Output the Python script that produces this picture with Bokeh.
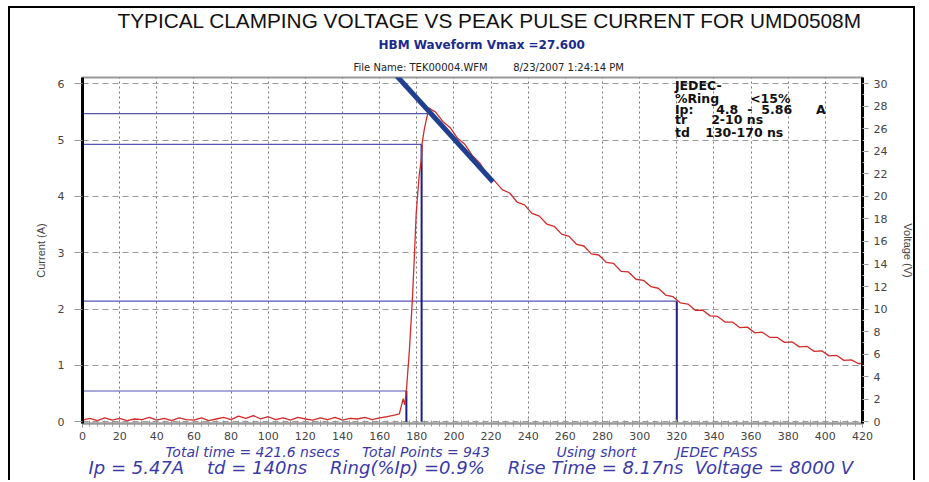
from bokeh.plotting import figure
from bokeh.models import Range1d, LinearAxis, FixedTicker, Label, ColumnDataSource, Title
from bokeh.embed import file_html
from bokeh.resources import INLINE

# ---------------- data ----------------
base_t = [0, 4, 8, 12, 16, 20, 24, 28, 32, 36, 40, 44, 48, 52, 56, 60, 64, 68, 72, 76, 80,
          84, 88, 92, 96, 100, 104, 108, 112, 116, 120, 124, 128, 132, 136, 140, 144, 148,
          152, 156, 160, 164, 168]
base_i = [0.03, 0.06, 0.02, 0.07, 0.03, 0.06, 0.02, 0.05, 0.04, 0.08, 0.03, 0.06, 0.02, 0.07,
          0.04, 0.03, 0.07, 0.02, 0.05, 0.08, 0.04, 0.10, 0.06, 0.11, 0.05, 0.09, 0.04, 0.07,
          0.03, 0.08, 0.05, 0.03, 0.07, 0.04, 0.08, 0.03, 0.06, 0.05, 0.08, 0.04, 0.07, 0.09, 0.12]
rise_t = [170.6, 172.7, 173.5, 174.4, 176.0, 177.6, 178.6, 179.7, 181.3, 182.4, 182.9, 184.0,
          185.1, 186.7, 188.3]
rise_i = [0.14, 0.41, 0.30, 0.55, 1.26, 2.15, 2.86, 3.70, 4.38, 4.64, 4.95, 5.18, 5.36, 5.57, 5.53]
decay_t = [190, 194, 198, 202, 206, 210, 214, 218, 222, 226, 230, 234, 238, 242, 246, 250, 254,
           258, 262, 266, 270, 274, 278, 282, 286, 290, 294, 298, 302, 306, 310, 314, 318, 322,
           326, 330, 334, 338, 342, 346, 350, 354, 358, 362, 366, 370, 374, 378, 382, 386, 390,
           394, 398, 402, 406, 410, 414, 418, 420]
decay_i = [5.50, 5.33, 5.22, 5.03, 4.92, 4.72, 4.59, 4.38, 4.27, 4.12, 4.06, 3.90, 3.85, 3.70,
           3.65, 3.51, 3.47, 3.33, 3.29, 3.15, 3.12, 2.98, 2.96, 2.83, 2.81, 2.67, 2.66, 2.53,
           2.51, 2.40, 2.37, 2.25, 2.22, 2.11, 2.09, 1.98, 1.98, 1.88, 1.87, 1.77, 1.77, 1.67,
           1.68, 1.58, 1.59, 1.50, 1.50, 1.41, 1.42, 1.33, 1.34, 1.25, 1.26, 1.17, 1.18, 1.09,
           1.10, 1.03, 1.04]

# decay fit line (thick blue)
fit_t = [165, 221]
fit_i = [6.29, 4.26]

# marker levels: 10 %, 90 %, Ip, td level
level_i = [0.547, 4.923, 5.47, 2.14]
level_end_t = [174.4, 182.6, 185.5, 320]
# vertical markers
vmark_t = [174.4, 182.6, 320]
vmark_top = [0.547, 4.923, 2.14]

x_ticks = list(range(0, 421, 20))
x_minor = list(range(0, 421, 4))
i_ticks = [0, 1, 2, 3, 4, 5, 6]
v_ticks = list(range(0, 31, 2))

NB = "\u00a0"
title_text = "TYPICAL CLAMPING VOLTAGE VS PEAK PULSE CURRENT FOR UMD0508M"
subtitle_text = "HBM Waveform Vmax =27.600"
file_text = "File Name: TEK00004.WFM" + NB * 8 + "8/23/2007 1:24:14 PM"
footer1_parts = ["Total time = 421.6 nsecs", "Total Points = 943", "Using short", "JEDEC PASS"]
footer2_parts = ["Ip = 5.47A", "td = 140ns", "Ring(%Ip) =0.9%", "Rise Time = 8.17ns", "Voltage = 8000 V"]
footer1 = (footer1_parts[0] + NB * 5 + footer1_parts[1] + NB * 15 + footer1_parts[2]
           + NB * 9 + footer1_parts[3])
footer2 = (NB * 4).join(footer2_parts[:3]) + NB * 4 + footer2_parts[3] + NB * 2 + footer2_parts[4]

# ---------------- figure ----------------
p = figure(width=907, height=474, x_range=Range1d(0, 420), y_range=Range1d(-0.03, 6.11),
           output_backend="svg", toolbar_location=None,
           min_border_left=72, min_border_right=52, min_border_top=69, min_border_bottom=59)
p.title.visible = False
p.styles = {"margin-left": "8px", "margin-top": "6px",
            "border-left": "2px solid #000", "border-top": "2px solid #000",
            "border-right": "2px solid #000"}
p.background_fill_color = "white"
p.border_fill_color = "white"
p.outline_line_color = "#999999"
p.outline_line_width = 2

p.extra_y_ranges = {"v": Range1d(-0.15, 30.55)}

# grids
p.xgrid.ticker = FixedTicker(ticks=x_ticks)
p.xgrid.grid_line_color = "#777777"
p.xgrid.grid_line_dash = "2 3"
p.xgrid.grid_line_width = 1
p.ygrid.ticker = FixedTicker(ticks=i_ticks)
p.ygrid.grid_line_color = "#999999"
p.ygrid.grid_line_dash = "6 4"
p.ygrid.grid_line_width = 1

tick_font = "DejaVu Sans"
label_font = "Liberation Sans"

xa = p.xaxis[0]
xa.ticker = FixedTicker(ticks=x_ticks, minor_ticks=x_minor)
xa.axis_line_color = "#999999"
xa.axis_line_width = 2
xa.major_tick_line_color = "#888888"
xa.minor_tick_line_color = "#999999"
xa.major_tick_in = 4
xa.major_tick_out = 4
xa.minor_tick_in = 3
xa.minor_tick_out = 3
xa.major_label_text_font = tick_font
xa.major_label_text_font_size = "11px"
xa.major_label_text_color = "#444444"
xa.major_label_standoff = 4

ya = p.yaxis[0]
ya.ticker = FixedTicker(ticks=i_ticks)
ya.axis_line_color = "black"
ya.axis_line_width = 3
ya.major_tick_line_color = "#999999"
ya.major_tick_in = 0
ya.major_tick_out = 8
ya.minor_tick_line_color = None
ya.major_label_text_font = tick_font
ya.major_label_text_font_size = "11px"
ya.major_label_text_color = "#444444"
ya.major_label_standoff = 10
ya.axis_label = "Current (A)"
ya.axis_label_text_font = label_font
ya.axis_label_text_font_style = "normal"
ya.axis_label_text_font_size = "11px"
ya.axis_label_standoff = 8

ra = LinearAxis(y_range_name="v", ticker=FixedTicker(ticks=v_ticks, minor_ticks=list(range(0, 31, 1))))
ra.axis_line_color = "black"
ra.axis_line_width = 3
ra.major_tick_line_color = "#999999"
ra.major_tick_in = 0
ra.major_tick_out = 6
ra.minor_tick_line_color = "#bbbbbb"
ra.minor_tick_in = 0
ra.minor_tick_out = 2
ra.major_label_text_font = tick_font
ra.major_label_text_font_size = "11px"
ra.major_label_text_color = "#444444"
ra.major_label_standoff = 5
ra.axis_label = "Voltage (V)"
ra.axis_label_text_font = label_font
ra.axis_label_text_font_style = "normal"
ra.axis_label_text_font_size = "11px"
ra.axis_label_standoff = 12
p.add_layout(ra, "right")

# marker lines
lv = ColumnDataSource(dict(x0=[0] * len(level_i), x1=level_end_t, y=level_i))
p.segment(x0="x0", y0="y", x1="x1", y1="y", source=lv, line_color="#5555b5", line_width=1.2)
vm = ColumnDataSource(dict(x=vmark_t, y0=[0] * len(vmark_t), y1=vmark_top))
p.segment(x0="x", y0="y0", x1="x", y1="y1", source=vm, line_color="#1e1e82", line_width=2)

# waveform
wave_t = base_t + rise_t + decay_t
wave_i = base_i + rise_i + decay_i
p.line(wave_t, wave_i, line_color="#d42a2a", line_width=1.3)

# fit line
p.line(fit_t, fit_i, line_color="#20408f", line_width=5)

# ---------------- titles (stacked outward from the frame) ----------------
p.add_layout(Title(text=file_text, align="left", offset=271, vertical_align="middle", standoff=8,
                   text_font="DejaVu Sans", text_font_style="normal", text_font_size="10px",
                   text_color="#222222"), "above")
p.add_layout(Title(text=subtitle_text, align="left", offset=296, vertical_align="bottom", standoff=10,
                   text_font="DejaVu Sans", text_font_style="bold", text_font_size="12px",
                   text_color="#1c2a8c"), "above")
p.add_layout(Title(text=title_text, align="left", offset=35, vertical_align="middle", standoff=-4,
                   text_font=label_font, text_font_style="normal", text_font_size="20.8px",
                   text_color="#111111"), "above")

p.add_layout(Title(text=footer1, align="left", offset=83, vertical_align="middle", standoff=0,
                   text_font="DejaVu Sans", text_font_style="italic", text_font_size="14px",
                   text_color="#3a3aa8"), "below")
p.add_layout(Title(text=footer2, align="left", offset=6, vertical_align="middle", standoff=-10,
                   text_font="DejaVu Sans", text_font_style="italic", text_font_size="18px",
                   text_color="#3a3aa8"), "below")

# ---------------- JEDEC box text ----------------
leg_items = [("JEDEC-", 319, 5.97), ("%Ring", 319, 5.74), ("<15%", 359.5, 5.74),
             ("Ip:", 319, 5.55), ("4.8", 341.2, 5.55), ("-", 358, 5.55), ("5.86", 365.5, 5.55),
             ("A", 395, 5.55),
             ("tr", 319, 5.36), ("2-10 ns", 338.5, 5.36),
             ("td", 319, 5.14), ("130-170 ns", 335.3, 5.14)]
for txt, lx, ly in leg_items:
    p.add_layout(Label(x=lx, y=ly, text=txt, text_align="left", text_baseline="middle",
                       text_font="DejaVu Sans", text_font_style="bold", text_font_size="12.5px",
                       text_color="#111111"))

open("out.html", "w").write(file_html(p, INLINE))
